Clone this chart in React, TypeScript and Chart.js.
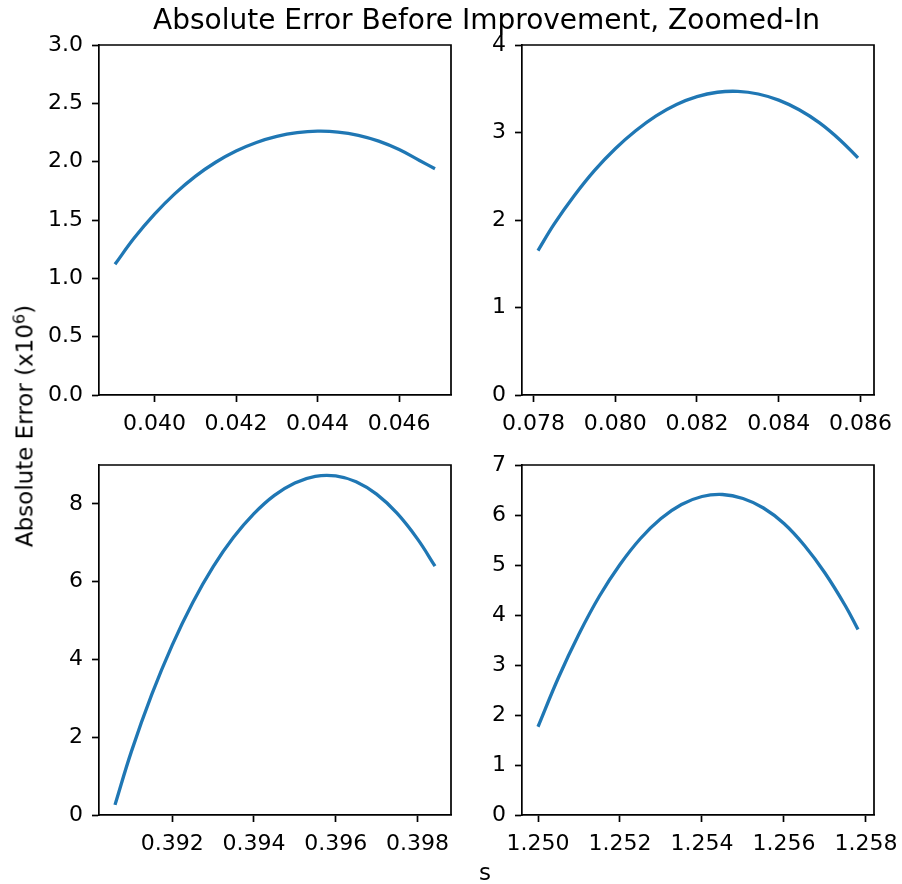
import React, { useEffect, useRef } from 'react';
import { Chart, registerables } from 'chart.js';

Chart.register(...registerables);

// ---------- data ----------
const titleText = 'Absolute Error Before Improvement, Zoomed-In';
const yLabelText = 'Absolute Error (x10';
const yLabelExp = '6';
const xLabelText = 's';

// top-left panel
const sTopLeft = [0.03903, 0.0395, 0.04, 0.0405, 0.041, 0.0415, 0.042, 0.0425, 0.043, 0.0435, 0.044, 0.0445, 0.045, 0.0455, 0.046, 0.0465, 0.04688];
const errTopLeft = [1.12, 1.345, 1.55, 1.726, 1.874, 1.995, 2.091, 2.164, 2.216, 2.248, 2.261, 2.254, 2.226, 2.176, 2.104, 2.01, 1.94];
const xTicksTopLeft = [0.04, 0.042, 0.044, 0.046];
const yTicksTopLeft = [0, 0.5, 1, 1.5, 2, 2.5, 3];

// top-right panel
const sTopRight = [0.07811, 0.0785, 0.079, 0.0795, 0.08, 0.0805, 0.081, 0.0815, 0.082, 0.0825, 0.083, 0.0835, 0.084, 0.0845, 0.085, 0.0855, 0.08594];
const errTopRight = [1.65, 1.95, 2.28, 2.57, 2.815, 3.02, 3.19, 3.32, 3.41, 3.46, 3.47, 3.44, 3.37, 3.26, 3.11, 2.915, 2.71];
const xTicksTopRight = [0.078, 0.08, 0.082, 0.084, 0.086];
const yTicksTopRight = [0, 1, 2, 3, 4];

// bottom-left panel
const sBottomLeft = [0.3906, 0.391, 0.3915, 0.392, 0.3925, 0.393, 0.3935, 0.394, 0.3945, 0.395, 0.3955, 0.396, 0.3965, 0.397, 0.3975, 0.398, 0.39843];
const errBottomLeft = [0.26, 1.63, 3.1, 4.37, 5.46, 6.38, 7.14, 7.75, 8.22, 8.54, 8.71, 8.72, 8.57, 8.25, 7.76, 7.1, 6.4];
const xTicksBottomLeft = [0.392, 0.394, 0.396, 0.398];
const yTicksBottomLeft = [0, 2, 4, 6, 8];

// bottom-right panel
const sBottomRight = [1.25, 1.2505, 1.251, 1.2515, 1.252, 1.2525, 1.253, 1.2535, 1.254, 1.2545, 1.255, 1.2555, 1.256, 1.2565, 1.257, 1.2575, 1.257806];
const errBottomRight = [1.765, 2.75, 3.62, 4.38, 5.01, 5.53, 5.93, 6.21, 6.37, 6.41, 6.33, 6.14, 5.83, 5.39, 4.84, 4.18, 3.71];
const xTicksBottomRight = [1.25, 1.252, 1.254, 1.256, 1.258];
const yTicksBottomRight = [0, 1, 2, 3, 4, 5, 6, 7];

const yMaxTopLeft = 3;
const yMaxTopRight = 4;
const yMaxBottomLeft = 9;
const yMaxBottomRight = 7;

// ---------- styling ----------
const FONT = "'DejaVu Sans', 'Liberation Sans', sans-serif";
const TICK_SIZE = 22;
const LABEL_SIZE = 23;
const TITLE_SIZE = 28;
const LINE_COLOR = '#1f77b4';
const PLOT_W = 352;
const PLOT_H = 350;
const Y_AXIS_W = 99;
const X_AXIS_H = 52;
const PAD_TOP = 35;
const PAD_RIGHT = 48;

const framePlugin = {
  id: 'frameTopRight',
  afterDraw(chart: any) {
    const { ctx, chartArea: a } = chart;
    ctx.save();
    ctx.strokeStyle = '#000';
    ctx.lineWidth = 1.7;
    ctx.beginPath();
    ctx.moveTo(a.left, a.top);
    ctx.lineTo(a.right, a.top);
    ctx.lineTo(a.right, a.bottom);
    ctx.stroke();
    ctx.restore();
  },
};

type PanelProps = {
  s: number[];
  err: number[];
  xTicks: number[];
  yTicks: number[];
  yMax: number;
  xDecimals: number;
  yDecimals: number;
  plotLeft: number;
  plotTop: number;
};

function Panel(p: PanelProps) {
  const ref = useRef<HTMLCanvasElement | null>(null);
  const W = Y_AXIS_W + PLOT_W + PAD_RIGHT;
  const H = PAD_TOP + PLOT_H + X_AXIS_H;

  useEffect(() => {
    if (!ref.current) return;
    const span = p.s[p.s.length - 1] - p.s[0];
    const xMin = p.s[0] - 0.05 * span;
    const xMax = p.s[p.s.length - 1] + 0.05 * span;
    const axisCommon = {
      grid: {
        drawOnChartArea: false,
        drawTicks: true,
        tickLength: 7,
        tickWidth: 1.7,
        tickColor: '#000',
      },
      border: { display: true, color: '#000', width: 1.7 },
    };
    const chart = new Chart(ref.current, {
      type: 'line',
      data: {
        datasets: [
          {
            data: p.s.map((x, i) => ({ x, y: p.err[i] })),
            borderColor: LINE_COLOR,
            backgroundColor: LINE_COLOR,
            borderWidth: 3.3,
            pointRadius: 0,
            fill: false,
            tension: 0.4,
            borderCapStyle: 'butt',
            borderJoinStyle: 'round',
          },
        ],
      },
      options: {
        animation: false,
        responsive: false,
        devicePixelRatio: 1,
        layout: { padding: { left: 0, top: PAD_TOP, right: PAD_RIGHT, bottom: 0 } },
        plugins: {
          legend: { display: false },
          tooltip: { enabled: false },
          title: { display: false },
        },
        scales: {
          x: {
            type: 'linear',
            min: xMin,
            max: xMax,
            ...axisCommon,
            ticks: {
              color: '#000',
              font: { family: FONT, size: TICK_SIZE },
              padding: 9,
              maxRotation: 0,
              autoSkip: false,
              callback: (v: any) => Number(v).toFixed(p.xDecimals),
            },
            afterBuildTicks: (sc: any) => {
              sc.ticks = p.xTicks.map((v) => ({ value: v }));
            },
            afterFit: (sc: any) => {
              sc.height = X_AXIS_H;
            },
          },
          y: {
            type: 'linear',
            min: 0,
            max: p.yMax,
            ...axisCommon,
            ticks: {
              color: '#000',
              font: { family: FONT, size: TICK_SIZE },
              padding: 9,
              autoSkip: false,
              callback: (v: any) => Number(v).toFixed(p.yDecimals),
            },
            afterBuildTicks: (sc: any) => {
              sc.ticks = p.yTicks.map((v) => ({ value: v }));
            },
            afterFit: (sc: any) => {
              sc.width = Y_AXIS_W;
            },
          },
        },
      } as any,
      plugins: [framePlugin],
    });
    return () => chart.destroy();
  }, []);

  return (
    <div
      style={{
        position: 'absolute',
        left: p.plotLeft - Y_AXIS_W,
        top: p.plotTop - PAD_TOP,
        width: W,
        height: H,
      }}
    >
      <canvas ref={ref} width={W} height={H} style={{ width: W, height: H, display: 'block' }} />
    </div>
  );
}

export default function App() {
  return (
    <div
      style={{
        position: 'absolute',
        left: 0,
        top: 0,
        width: 902,
        height: 884,
        background: '#fff',
        fontFamily: FONT,
        color: '#000',
        overflow: 'hidden',
      }}
    >
      <Panel s={sTopLeft} err={errTopLeft} xTicks={xTicksTopLeft} yTicks={yTicksTopLeft} yMax={yMaxTopLeft} xDecimals={3} yDecimals={1} plotLeft={99} plotTop={45} />
      <Panel s={sTopRight} err={errTopRight} xTicks={xTicksTopRight} yTicks={yTicksTopRight} yMax={yMaxTopRight} xDecimals={3} yDecimals={0} plotLeft={522} plotTop={45} />
      <Panel s={sBottomLeft} err={errBottomLeft} xTicks={xTicksBottomLeft} yTicks={yTicksBottomLeft} yMax={yMaxBottomLeft} xDecimals={3} yDecimals={0} plotLeft={99} plotTop={465} />
      <Panel s={sBottomRight} err={errBottomRight} xTicks={xTicksBottomRight} yTicks={yTicksBottomRight} yMax={yMaxBottomRight} xDecimals={3} yDecimals={0} plotLeft={522} plotTop={465} />

      <div
        style={{
          position: 'absolute',
          left: 486.5,
          top: 20,
          transform: 'translate(-50%, -50%)',
          fontSize: TITLE_SIZE,
          lineHeight: TITLE_SIZE + 'px',
          whiteSpace: 'nowrap',
        }}
      >
        {titleText}
      </div>

      <div
        style={{
          position: 'absolute',
          left: 25,
          top: 426,
          transform: 'translate(-50%, -50%) rotate(-90deg)',
          fontSize: LABEL_SIZE,
          lineHeight: LABEL_SIZE + 'px',
          whiteSpace: 'nowrap',
        }}
      >
        {yLabelText}
        <span style={{ fontSize: '0.7em', position: 'relative', top: '-0.5em', lineHeight: 0 }}>{yLabelExp}</span>)
      </div>

      <div
        style={{
          position: 'absolute',
          left: 485,
          top: 872,
          transform: 'translate(-50%, -50%)',
          fontSize: LABEL_SIZE,
          lineHeight: LABEL_SIZE + 'px',
          whiteSpace: 'nowrap',
        }}
      >
        {xLabelText}
      </div>
    </div>
  );
}
